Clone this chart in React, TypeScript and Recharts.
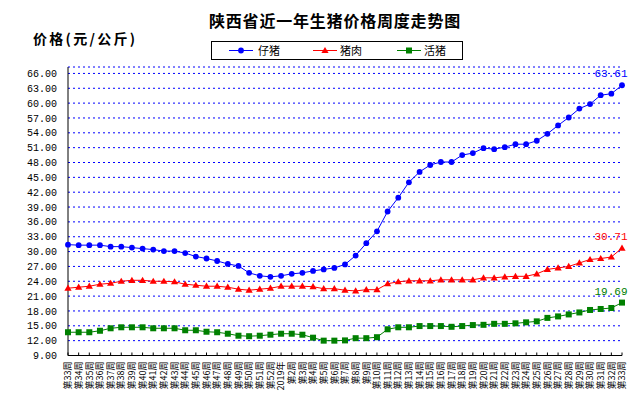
import { CartesianGrid, Legend, Line, LineChart, XAxis, YAxis } from "recharts";

// 2018年第33周 ~ 2019年第33周
const weeks = [
  "第33周", "第34周", "第35周", "第36周", "第37周", "第38周", "第39周", "第40周",
  "第41周", "第42周", "第43周", "第44周", "第45周", "第46周", "第47周", "第48周",
  "第49周", "第50周", "第51周", "第52周", "2019年", "第2周", "第3周", "第4周",
  "第5周", "第6周", "第7周", "第8周", "第9周", "第10周", "第11周", "第12周",
  "第13周", "第14周", "第15周", "第16周", "第17周", "第18周", "第19周", "第20周",
  "第21周", "第22周", "第23周", "第24周", "第25周", "第26周", "第27周", "第28周",
  "第29周", "第30周", "第31周", "第32周", "第33周",
];

// 仔猪
const piglet = [
  31.4, 31.3, 31.3, 31.3, 31.0, 31.0, 30.8, 30.6, 30.4, 30.1, 30.1, 29.7, 29.0,
  28.6, 28.1, 27.5, 27.1, 25.7, 25.1, 24.9, 25.1, 25.5, 25.7, 26.1, 26.4, 26.7,
  27.4, 29.2, 31.7, 34.1, 38.1, 40.9, 44.0, 46.1, 47.5, 48.1, 48.1, 49.5, 49.9,
  50.9, 50.7, 51.1, 51.7, 51.7, 52.4, 53.8, 55.5, 57.1, 58.9, 59.8, 61.6, 61.9,
  63.61,
];

// 猪肉
const pork = [
  22.6, 22.8, 23.0, 23.4, 23.6, 24.0, 24.2, 24.2, 24.0, 24.0, 23.9, 23.4, 23.2,
  23.0, 23.0, 22.8, 22.4, 22.2, 22.4, 22.6, 23.0, 23.0, 23.0, 22.9, 22.5, 22.5,
  22.2, 22.05, 22.3, 22.3, 23.5, 23.9, 24.1, 24.1, 24.1, 24.3, 24.3, 24.3, 24.3,
  24.7, 24.7, 24.9, 25.0, 25.0, 25.5, 26.4, 26.7, 27.0, 27.7, 28.4, 28.6, 28.9,
  30.71,
];

// 活猪
const hog = [
  13.7, 13.7, 13.7, 14.0, 14.5, 14.7, 14.7, 14.7, 14.5, 14.5, 14.5, 14.1, 14.1,
  13.8, 13.7, 13.4, 13.0, 12.9, 13.0, 13.2, 13.4, 13.4, 13.2, 12.6, 12.0, 12.0,
  12.05, 12.5, 12.5, 12.7, 14.3, 14.7, 14.7, 14.95, 14.95, 14.95, 14.8, 14.95,
  15.15, 15.2, 15.4, 15.4, 15.5, 15.7, 15.9, 16.6, 16.9, 17.3, 17.7, 18.2, 18.4,
  18.6, 19.69,
];

const yTicks = [
  9, 12, 15, 18, 21, 24, 27, 30, 33, 36, 39, 42, 45, 48, 51, 54, 57, 60, 63, 66,
];

const data = weeks.map((week, i) => ({
  week,
  piglet: piglet[i],
  pork: pork[i],
  hog: hog[i],
}));

const BLUE = "#0000ff";
const RED = "#ff0000";
const GREEN = "#008000";
const CJK = '"Noto Sans CJK SC", sans-serif';
const MONO = '"Liberation Mono", monospace';
const LAST = weeks.length - 1;

function Marker({ kind, cx, cy }: { kind: string; cx: number; cy: number }) {
  if (kind === "piglet") return <circle cx={cx} cy={cy} r={2.9} fill={BLUE} />;
  if (kind === "pork")
    return (
      <polygon
        points={`${cx},${cy - 3.6} ${cx + 3.6},${cy + 2.6} ${cx - 3.6},${cy + 2.6}`}
        fill={RED}
      />
    );
  return <rect x={cx - 3} y={cy - 3} width={6} height={6} fill={GREEN} />;
}

const dotFor = (kind: string) => (p: any) =>
  <Marker key={`${kind}-${p.index}`} kind={kind} cx={p.cx} cy={p.cy} />;

const endLabel = (color: string) => (p: any) =>
  p.index === LAST ? (
    <text
      key="end"
      x={p.x - 11}
      y={p.y - 8}
      textAnchor="middle"
      fontFamily={MONO}
      fontSize={11}
      fill={color}
    >
      {p.value}
    </text>
  ) : null;

function WeekTick({ x, y, payload }: any) {
  return (
    <g>
      <line x1={x} y1={y} x2={x} y2={y - 3} stroke="#000" />
      <text
        transform={`translate(${x + 3.2},${y + 6}) rotate(-90)`}
        textAnchor="end"
        fontFamily={CJK}
        fontSize={9}
        fill="#000"
      >
        {payload.value}
      </text>
    </g>
  );
}

// legend order as in the reference box
const legendSlots = [
  { key: "piglet", line: 17, text: 46 },
  { key: "pork", line: 101, text: 128 },
  { key: "hog", line: 185, text: 212 },
];

function LegendBox({ payload }: any) {
  const items = payload || [];
  return (
    <div
      style={{
        width: 252,
        height: 19,
        border: "1px solid #000",
        boxSizing: "border-box",
        background: "#fff",
      }}
    >
      <svg width={250} height={17} style={{ display: "block" }}>
        {legendSlots.map((slot) => {
          const item = items.find((it: any) => it.dataKey === slot.key);
          if (!item) return null;
          return (
            <g key={slot.key}>
              <line
                x1={slot.line}
                x2={slot.line + 24}
                y1={8.5}
                y2={8.5}
                stroke={item.color}
              />
              <Marker kind={slot.key} cx={slot.line + 12} cy={8.5} />
              <text
                x={slot.text}
                y={12.5}
                fontFamily={CJK}
                fontSize={11}
                fill="#000"
              >
                {item.value}
              </text>
            </g>
          );
        })}
      </svg>
    </div>
  );
}

export default function App() {
  return (
    <div
      style={{
        position: "absolute",
        left: 0,
        top: 0,
        width: 637,
        height: 404,
        background: "#fff",
      }}
    >
      <LineChart
        width={637}
        height={404}
        data={data}
        margin={{ top: 67, right: 15, left: 0, bottom: 0 }}
      >
        <CartesianGrid
          horizontal
          vertical={false}
          stroke={BLUE}
          strokeDasharray="2 3"
        />
        <XAxis
          dataKey="week"
          height={48.5}
          interval={0}
          tickLine={false}
          tickSize={0}
          tickMargin={0}
          axisLine={{ stroke: "#000" }}
          tick={<WeekTick />}
        />
        <YAxis
          type="number"
          domain={[9, 67.3]}
          ticks={yTicks}
          interval={0}
          width={68}
          tickLine={false}
          tickSize={0}
          tickMargin={11}
          axisLine={{ stroke: "#000" }}
          tickFormatter={(v: number) => v.toFixed(2)}
          tick={{ fontFamily: MONO, fontSize: 10, fill: "#000" }}
        />
        <Legend
          layout="horizontal"
          verticalAlign="middle"
          align="center"
          content={<LegendBox />}
          wrapperStyle={{ left: 211, top: 41, width: 252, height: 19 }}
        />
        <Line
          dataKey="piglet"
          name="仔猪"
          stroke={BLUE}
          strokeWidth={1}
          dot={dotFor("piglet")}
          activeDot={false}
          label={endLabel(BLUE)}
          isAnimationActive={false}
        />
        <Line
          dataKey="pork"
          name="猪肉"
          stroke={RED}
          strokeWidth={1}
          dot={dotFor("pork")}
          activeDot={false}
          label={endLabel(RED)}
          isAnimationActive={false}
        />
        <Line
          dataKey="hog"
          name="活猪"
          stroke={GREEN}
          strokeWidth={1}
          dot={dotFor("hog")}
          activeDot={false}
          label={endLabel(GREEN)}
          isAnimationActive={false}
        />
      </LineChart>
      <svg
        width={637}
        height={60}
        style={{ position: "absolute", left: 0, top: 0, pointerEvents: "none" }}
      >
        <text
          x={335}
          y={27}
          textAnchor="middle"
          fontFamily={CJK}
          fontSize={16}
          fontWeight="bold"
          letterSpacing={0.8}
          fill="#000"
        >
          陕西省近一年生猪价格周度走势图
        </text>
        <text
          x={33}
          y={44}
          fontFamily={CJK}
          fontSize={14}
          fontWeight="bold"
          letterSpacing={2.3}
          fill="#000"
        >
          价格(元/公斤)
        </text>
      </svg>
    </div>
  );
}
